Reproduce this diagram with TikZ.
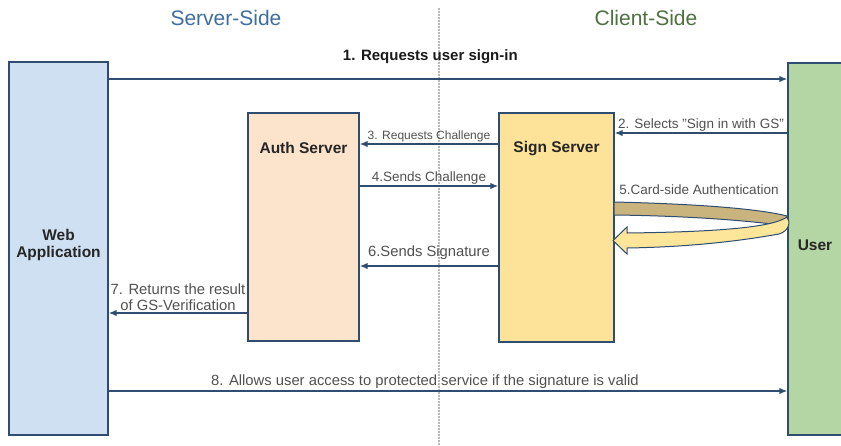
\documentclass[tikz,border=0pt]{standalone}
\usepackage{fontspec}
\setmainfont{Liberation Sans}
\usetikzlibrary{arrows.meta,positioning,calc}
\definecolor{myline}{HTML}{2F4D71}
\definecolor{webfill}{HTML}{CFE0F3}
\definecolor{authfill}{HTML}{FCE4CC}
\definecolor{signfill}{HTML}{FDE29A}
\definecolor{userfill}{HTML}{B4D6A4}
\definecolor{myserver}{HTML}{3F6E9E}
\definecolor{myclient}{HTML}{4E7040}
\definecolor{mygray}{HTML}{505050}
\definecolor{tanband}{HTML}{C9B47E}
\definecolor{yellowband}{HTML}{FDE59A}
\tikzset{
	box/.style={
		rectangle, draw=myline, line width=1.4pt, inner sep=0pt,
	},
	boxtext/.style={
		font=\bfseries\fontsize{15.5}{17.5}\selectfont, text=black!85, align=center,
	},
	msg/.style={
		draw=myline, line width=1.4pt, -{Latex[length=8pt,width=6.5pt]},
	},
	msgtext/.style={
		font=\fontsize{13.5}{16}\selectfont, text=mygray, inner sep=1.5pt,
	},
	msgbig/.style={
		msgtext, font=\fontsize{14.8}{16.5}\selectfont,
	},
	side/.style={font=\fontsize{21}{24}\selectfont},
	divider/.style={draw=gray!55, line width=1.2pt, dash pattern=on 1.5pt off 1.5pt},
	band/.style={draw=myline, line width=1pt},
}

\begin{document}
\begin{tikzpicture}[x=1pt, y=-1pt]
	\useasboundingbox (0,0) rectangle (841,445);
	\clip (0,0) rectangle (841,445);
	% Separator
	\coordinate (P) at (439,8);
	\draw[divider] (P) -- (P |- 0,445);
	% Sides
	\node[side, text=myserver] (server) at (226,18) {Server-Side};
	\node[side, text=myclient] (client) at (646,18) {Client-Side};
	% Boxes
	\node[box, fill=webfill, minimum width=99pt, minimum height=373pt] (web) at (58.5,248.5) {};
	\node[box, fill=authfill, minimum width=111pt, minimum height=228pt] (auth) at (303.5,227) {};
	\node[box, fill=signfill, minimum width=115pt, minimum height=229pt] (sign) at (556.5,227.5) {};
	\node[box, fill=userfill, minimum width=56pt, minimum height=372pt] (user) at (816,249) {};
	\node[boxtext] (webtxt) at ([yshift=3.5pt]web.center) {Web\\Application};
	\node[boxtext] (authtxt) at ([yshift=-36pt]auth.north) {Auth Server};
	\node[boxtext] (signtxt) at ([yshift=-36pt]sign.north) {Sign Server};
	\node[boxtext] (usertxt) at ([yshift=4pt,xshift=-1pt]user.center) {User};
	% Rows
	\coordinate (r1) at (439,79);
	\coordinate (r2) at (439,133);
	\coordinate (r3) at (439,144);
	\coordinate (r4) at (439,186);
	\coordinate (r6) at (439,266);
	\coordinate (r7) at (439,313);
	\coordinate (r8) at (439,391);
	% Messages
	\draw[msg] (web.east |- r1) -- (user.west |- r1)
	node[msgtext, pos=0.474, above=13pt, text=black!90, font=\bfseries\fontsize{15}{17}\selectfont] {1. Requests user sign-in};
	\draw[msg] (user.west |- r2) -- (sign.east |- r2)
	node[msgtext, midway, above] {2. Selects "Sign in with GS"};
	\draw[msg] (sign.west |- r3) -- (auth.east |- r3)
	node[msgtext, midway, above, font=\fontsize{12}{14}\selectfont] {3. Requests Challenge};
	\draw[msg] (auth.east |- r4) -- (sign.west |- r4)
	node[msgtext, midway, above] {4.Sends Challenge};
	\draw[msg] (sign.west |- r6) -- (auth.east |- r6)
	node[msgbig, midway, above=4pt] {6.Sends Signature};
	\draw[msg] (auth.west |- r7) -- (web.east |- r7)
	node[msgbig, midway, above, align=center] {7. Returns the result\\of GS-Verification};
	\draw[msg] (web.east |- r8) -- (user.west |- r8)
	node[msgbig, pos=0.466, above] {8. Allows user access to protected service if the signature is valid};
	% Card-side authentication (curved band)
	\node[msgtext] (cardtxt) at (699,190) {5.Card-side Authentication};
	\filldraw[band, fill=tanband] (614,202) .. controls (700,204) and (760,209) .. (787,216)
	-- (787,226) .. controls (760,222) and (700,216) .. (614,215) -- cycle;
	\filldraw[band, fill=yellowband] (627,233) .. controls (710,232) and (772,228) .. (787,217)
	.. controls (791,222) and (789,231) .. (779,234)
	.. controls (740,241) and (690,247) .. (627,248)
	-- (627,254) -- (613,240.5) -- (627,227) -- cycle;
\end{tikzpicture}
\end{document}
